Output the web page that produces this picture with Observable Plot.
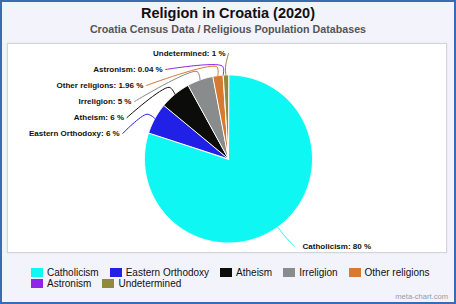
<!DOCTYPE html>
<html>
<head>
<meta charset="utf-8">
<script src="https://cdn.jsdelivr.net/npm/d3@7"></script>
<script src="https://cdn.jsdelivr.net/npm/@observablehq/plot@0.6"></script>
<style>
  html, body { margin: 0; padding: 0; background: #ffffff; }
  #frame {
    position: relative; width: 456px; height: 304px; box-sizing: border-box;
    border: 2px solid #3a6cb2; background: #f3f3fb; overflow: hidden;
    font-family: "Liberation Sans", Arial, sans-serif;
  }
  #title {
    position: absolute; left: 0; right: 0; top: 2px; text-align: center;
    font-weight: bold; font-size: 14.5px; line-height: 18px; color: #111;
  }
  #subtitle {
    position: absolute; left: 0; right: 0; top: 20px; text-align: center;
    font-weight: bold; font-size: 10.7px; line-height: 14px; color: #555;
  }
  #panel {
    position: absolute; left: 5px; top: 41px; width: 440px; height: 210px;
    box-sizing: border-box; border: 1px solid #d4d4dc; background: #fff;
    box-shadow: 0 0 2px rgba(0,0,0,0.08);
  }
  #panel svg { display: block; }
  #legend {
    position: absolute; left: 29px; top: 265px; width: 415px;
    display: flex; flex-wrap: wrap; column-gap: 11px; row-gap: 0;
    font-size: 10px; line-height: 11px; color: #111;
  }
  .item { display: inline-flex; align-items: center; height: 11px; white-space: nowrap; }
  .sw { width: 12px; height: 9px; margin-right: 4px; box-sizing: border-box; }
  #footer {
    position: absolute; right: 6px; top: 290px; font-size: 7.6px; line-height: 10px; color: #9a9a9a;
  }
</style>
</head>
<body>
<div id="frame">
  <div id="title"></div>
  <div id="subtitle"></div>
  <div id="panel"></div>
  <div id="legend"></div>
  <div id="footer"></div>
</div>
<script>
// ---- data ----
const titleText = "Religion in Croatia (2020)";
const subtitleText = "Croatia Census Data / Religious Population Databases";
const footerText = "meta-chart.com";
const categories = ["Catholicism", "Eastern Orthodoxy", "Atheism", "Irreligion", "Other religions", "Astronism", "Undetermined"];
const shares = [80, 6, 6, 5, 1.96, 0.04, 1];
const shareLabels = ["80 %", "6 %", "6 %", "5 %", "1.96 %", "0.04 %", "1 %"];
const palette = ["#0ff7f2", "#2020e6", "#0c0c0a", "#898c8c", "#d8792f", "#8f25e8", "#8f8a3c"];

document.getElementById("title").textContent = titleText;
document.getElementById("subtitle").textContent = subtitleText;
document.getElementById("footer").textContent = footerText;

// ---- layout ----
const W = 438, H = 208;
const CX = 220, CY = 114.5;   // pie centre inside the plot area (pixels)
const R = 84;                 // pie radius
const ELBOW = 93;             // connector elbow radius
const xDomain = [-CX, W - CX], yDomain = [-CY, H - CY];

const arcs = d3.pie().sort(null).value(d => d)(shares);

// slice polygons
const slicePts = [];
arcs.forEach((a, i) => {
  const name = categories[i];
  slicePts.push({name, x: 0, y: 0});
  const n = Math.max(2, Math.ceil((a.endAngle - a.startAngle) / 0.01));
  for (let k = 0; k <= n; k++) {
    const t = a.startAngle + (a.endAngle - a.startAngle) * k / n;
    slicePts.push({name, x: R * Math.sin(t), y: -R * Math.cos(t)});
  }
});

// label placement
const LA = 108, LB = 105.5, LP = 2.2, STEP = 16;
const labelX = (y) => {
  const u = Math.min(1, Math.abs(y) / LB);
  return LA * Math.pow(1 - Math.pow(u, LP), 1 / LP);
};
const info = arcs.map((a, i) => {
  const mid = (a.startAngle + a.endAngle) / 2;
  return {name: categories[i], label: `${categories[i]}: ${shareLabels[i]}`, mid,
          side: Math.sin(mid) < 0 ? -1 : 1};
});
const leftLabels = info.filter(d => d.side < 0).sort((a, b) => b.mid - a.mid);
const rightLabels = info.filter(d => d.side > 0);
const labelTop = yDomain[0] + 9;
leftLabels.forEach((d, k) => { d.ly = labelTop + STEP * k; });
rightLabels.forEach(d => { d.ly = -Math.cos(d.mid) * LA; });
info.forEach(d => {
  d.lx = d.side * labelX(d.ly);
  d.tx = d.lx + (d.side < 0 ? -3 : 8);
});

const connPts = [];
info.forEach(d => {
  connPts.push({name: d.name, x: R * Math.sin(d.mid), y: -R * Math.cos(d.mid)});
  connPts.push({name: d.name, x: ELBOW * Math.sin(d.mid), y: -ELBOW * Math.cos(d.mid)});
  connPts.push({name: d.name, x: d.lx, y: d.ly});
});

const font = "Liberation Sans, Arial, sans-serif";
const chart = Plot.plot({
  width: W, height: H, margin: 0,
  x: {domain: xDomain, range: [0, W], axis: null},
  y: {domain: yDomain, range: [0, H], axis: null},
  color: {domain: categories, range: palette},
  style: {background: "transparent", fontFamily: font},
  marks: [
    Plot.line(slicePts, {x: "x", y: "y", z: "name", fill: "name", stroke: "white",
      strokeWidth: 1, strokeLinejoin: "round", curve: "linear-closed"}),
    Plot.line(connPts, {x: "x", y: "y", z: "name", stroke: "name", strokeWidth: 1,
      curve: "catmull-rom"}),
    Plot.text(leftLabels, {x: "tx", y: "ly", text: "label", textAnchor: "end",
      fontSize: 8, fontWeight: "bold", fill: "#111", fontFamily: font}),
    Plot.text(rightLabels, {x: "tx", y: "ly", text: "label", textAnchor: "start",
      fontSize: 8, fontWeight: "bold", fill: "#111", fontFamily: font})
  ]
});
document.getElementById("panel").appendChild(chart);

// legend
const legend = document.getElementById("legend");
categories.forEach((c, i) => {
  const it = document.createElement("div");
  it.className = "item";
  const sw = document.createElement("span");
  sw.className = "sw";
  sw.style.background = palette[i];
  const tx = document.createElement("span");
  tx.textContent = c;
  it.appendChild(sw); it.appendChild(tx);
  legend.appendChild(it);
});
</script>
</body>
</html>
